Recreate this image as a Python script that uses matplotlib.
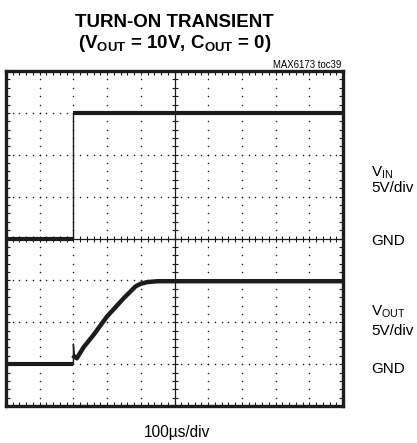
import numpy as np
import matplotlib
matplotlib.use("Agg")
import matplotlib.pyplot as plt

plt.rcParams['font.family'] = ['Liberation Sans', 'DejaVu Sans']
plt.rcParams['mathtext.fontset'] = 'custom'
plt.rcParams['mathtext.rm'] = 'Liberation Sans'
plt.rcParams['mathtext.bf'] = 'Liberation Sans:bold'

# scope settings
t_div = 100.0      # us per division
v_div = 5.0        # V per division
n_xdiv, n_ydiv = 10, 8
vin_gnd = 4        # ground marker (divisions from bottom)
vout_gnd = 1

# VIN trace (us, V)
vin_t = [0, 200, 200, 1000]
vin_v = [0, 0, 15, 15]

# VOUT trace (us, V)
vout_t = [0, 200, 200, 203, 210, 230, 260, 300, 350, 385, 400, 420, 450, 1000]
vout_v = [0, 0, 2.4, 0.9, 0.7, 2.0, 3.5, 5.7, 7.9, 9.3, 9.6, 9.8, 9.9, 9.9]

W, H = 417, 443
fig = plt.figure(figsize=(W / 100, H / 100), dpi=100)
ax = fig.add_axes([6 / W, 1 - 406 / H, 337 / W, 335 / H])
ax.set_xlim(0, n_xdiv)
ax.set_ylim(0, n_ydiv)

ink = '#1c1c1c'

# dotted graticule
minor = np.arange(0, n_xdiv + 0.01, 0.2)
minor_y = np.arange(0, n_ydiv + 0.01, 0.2)
for gx in range(1, n_xdiv):
    if gx == n_xdiv // 2:
        continue
    ax.scatter(np.full_like(minor_y, gx), minor_y, s=1.2, color=ink, lw=0, zorder=1)
for gy in range(1, n_ydiv):
    if gy == n_ydiv // 2:
        continue
    ax.scatter(minor, np.full_like(minor, gy), s=1.2, color=ink, lw=0, zorder=1)

# centre crosshair with ticks
ax.axhline(n_ydiv / 2, color=ink, lw=0.9, zorder=1)
ax.axvline(n_xdiv / 2, color=ink, lw=0.9, zorder=1)
ax.plot(minor, np.full_like(minor, n_ydiv / 2), ls='none', marker='|', ms=5, mew=0.8, color=ink, zorder=1)
ax.plot(np.full_like(minor_y, n_xdiv / 2), minor_y, ls='none', marker='_', ms=5, mew=0.8, color=ink, zorder=1)

# traces
x_in = np.array(vin_t) / t_div
y_in = vin_gnd + np.array(vin_v) / v_div
x_out = np.array(vout_t) / t_div
y_out = vout_gnd + np.array(vout_v) / v_div

ax.plot(x_in, y_in, color=ink, lw=1.0, zorder=3)
ax.plot(x_in[:2], y_in[:2], color=ink, lw=3.0, solid_capstyle='butt', zorder=3)
ax.plot(x_in[2:], y_in[2:], color=ink, lw=3.0, solid_capstyle='butt', zorder=3)

ax.plot(x_out, y_out, color=ink, lw=1.0, zorder=3)
ax.plot(x_out[:2], y_out[:2], color=ink, lw=3.0, solid_capstyle='butt', zorder=3)
ax.plot(x_out[3:], y_out[3:], color=ink, lw=3.2, solid_joinstyle='round', zorder=3)

# frame and edge ticks
for s in ax.spines.values():
    s.set_linewidth(2.4)
    s.set_color(ink)
ax.set_xticks([])
ax.set_yticks([])
ax.set_xticks(minor, minor=True)
ax.set_yticks(minor_y, minor=True)
ax.tick_params(which='minor', direction='in', length=3, width=0.8, color=ink,
               top=True, right=True, labelbottom=False, labelleft=False)

def fx(px):
    return px / W

def fy(py):
    return 1 - py / H

fig.text(fx(174.5), fy(26.7), 'TURN-ON TRANSIENT', ha='center', va='baseline',
         fontsize=13.5, fontweight='bold')
fig.text(fx(174.5), fy(48.3), r'(V$_{\mathbf{OUT}}$ = 10V, C$_{\mathbf{OUT}}$ = 0)', ha='center',
         va='baseline', fontsize=13.5, fontweight='bold')
fig.text(fx(341), fy(68), 'MAX6173 toc39', ha='right', va='baseline', fontsize=6.9)

lab = dict(ha='left', va='baseline', fontsize=11)
fig.text(fx(371), fy(176), r'V$_{\mathregular{IN}}$', **lab)
fig.text(fx(371), fy(192), '5V/div', **lab)
fig.text(fx(371), fy(245), 'GND', **lab)
fig.text(fx(371), fy(315), r'V$_{\mathregular{OUT}}$', **lab)
fig.text(fx(371), fy(335), '5V/div', **lab)
fig.text(fx(371), fy(373), 'GND', **lab)
fig.text(fx(176.7), fy(437), '100µs/div', ha='center', va='baseline', fontsize=11.2)

fig.savefig('out.png', dpi=100)
